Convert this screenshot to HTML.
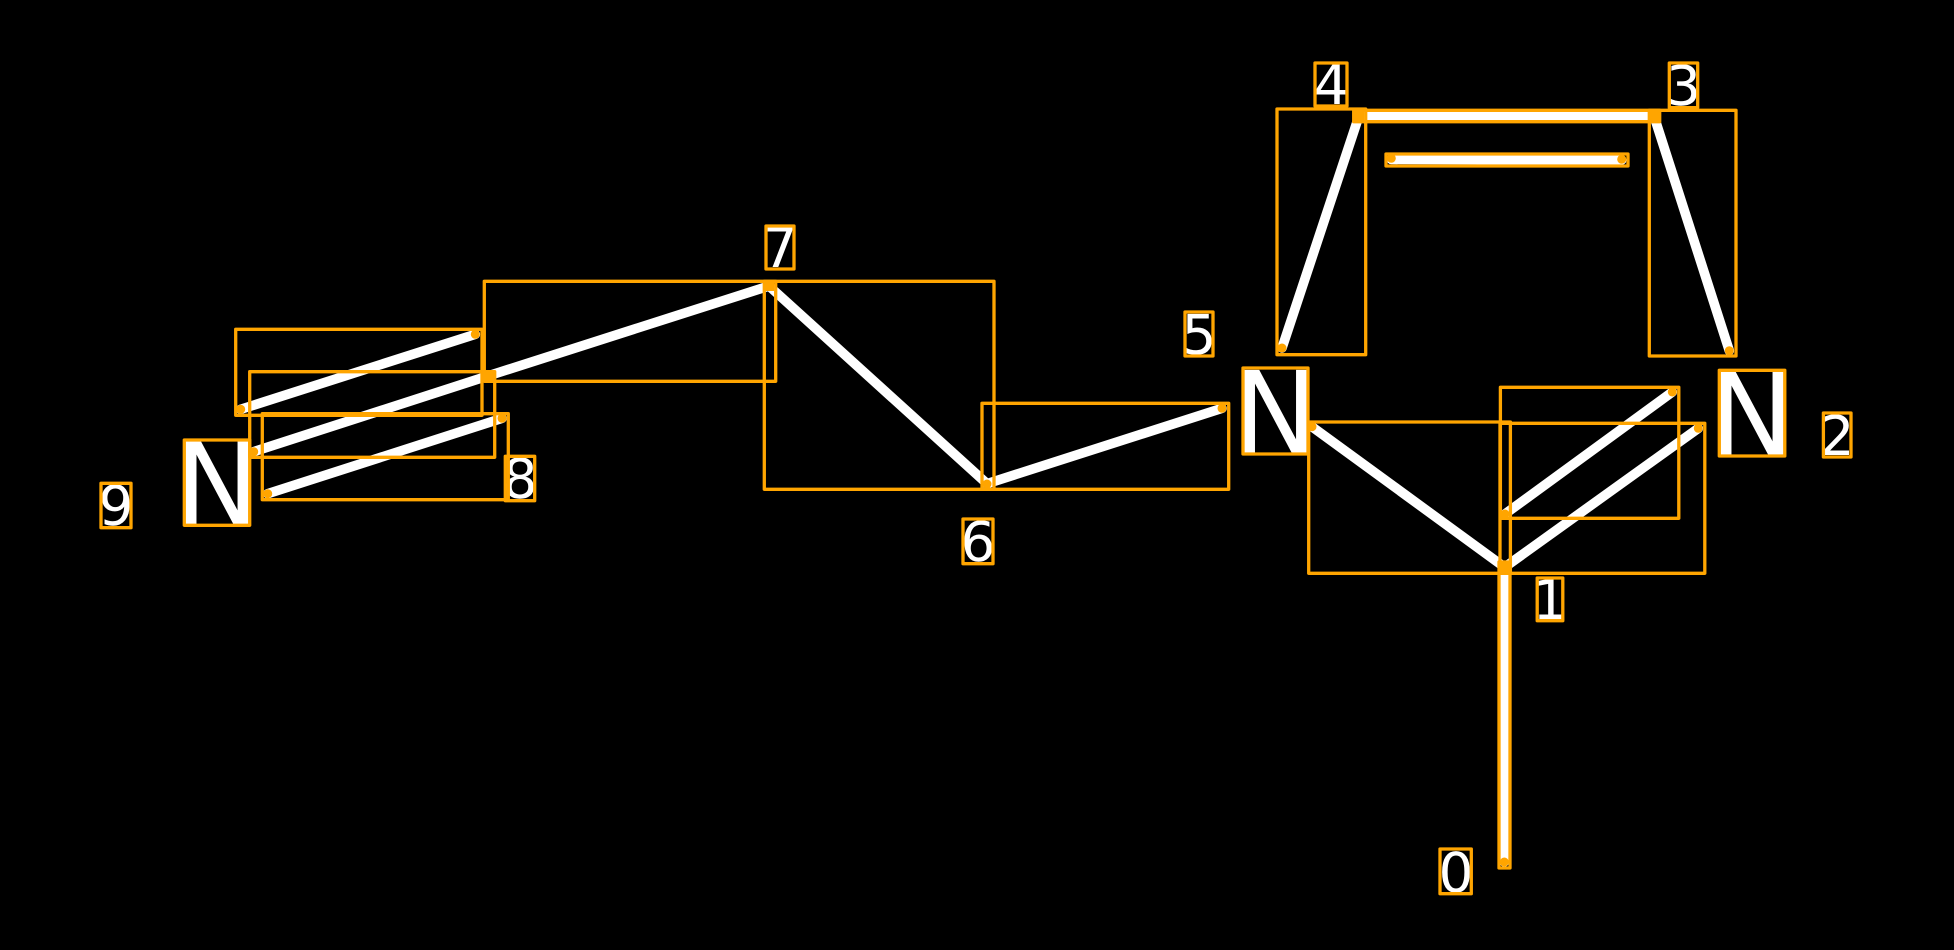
<!DOCTYPE html>
<html>
<head>
<meta charset="utf-8">
<style>
html,body{margin:0;padding:0;background:#000;width:1954px;height:950px;overflow:hidden}
svg{display:block}
text{font-family:"DejaVu Sans","Liberation Sans",sans-serif;fill:#fff;text-anchor:middle;text-rendering:geometricPrecision}
.d{font-size:55px}
.n{font-size:114px}
.r{fill:none;stroke:#ffa500;stroke-width:3.3;stroke-linejoin:round}
.l{stroke:#fff;stroke-width:9.6;stroke-linecap:round;fill:none}
.p{fill:#ffa500}
</style>
</head>
<body>
<svg width="1954" height="950" viewBox="0 0 1954 950" xmlns="http://www.w3.org/2000/svg">
<rect width="1954" height="950" fill="#000"/>
<!-- lines -->
<g class="l">
<line x1="240.7" y1="409.3" x2="475.3" y2="334.3"/>
<line x1="253.7" y1="451.7" x2="488.7" y2="375.7"/>
<line x1="267.7" y1="493.7" x2="502" y2="418.3"/>
<line x1="488.7" y1="375.7" x2="769" y2="286"/>
<line x1="769" y1="286" x2="987" y2="483.7"/>
<line x1="987" y1="483.7" x2="1222" y2="408.3"/>
<line x1="1282" y1="348" x2="1359.3" y2="115"/>
<line x1="1359.3" y1="116" x2="1654" y2="116"/>
<line x1="1391.3" y1="159.5" x2="1621.7" y2="160"/>
<line x1="1654" y1="116" x2="1729.3" y2="350.7"/>
<line x1="1312" y1="426.7" x2="1504.6" y2="567.3"/>
<line x1="1504.6" y1="567.3" x2="1698.3" y2="428.3"/>
<line x1="1505" y1="514" x2="1672.3" y2="392"/>
<line x1="1504.5" y1="567" x2="1504.3" y2="862"/>
</g>
<!-- text -->
<text class="n" x="217" y="524">N</text>
<text class="n" x="1275.5" y="453">N</text>
<text class="n" x="1752" y="455">N</text>
<text class="d" x="1456" y="892">0</text>
<text class="d" x="1550" y="619">1</text>
<text class="d" x="1837" y="455">2</text>
<text class="d" x="1683.5" y="105">3</text>
<text class="d" x="1331" y="104">4</text>
<text class="d" x="1199" y="354">5</text>
<text class="d" x="978" y="561">6</text>
<text class="d" x="780" y="267">7</text>
<text class="d" x="520" y="498">8</text>
<text class="d" x="116" y="525">9</text>
<!-- boxes -->
<g class="r">
<rect x="235.7" y="329.3" width="246.3" height="86"/>
<rect x="249.7" y="371.7" width="245" height="85.6"/>
<rect x="262.3" y="413.7" width="246" height="86"/>
<rect x="484.3" y="281.3" width="291.4" height="100"/>
<rect x="764.3" y="281.3" width="229.7" height="208"/>
<rect x="982" y="403.3" width="246.7" height="86"/>
<rect x="1277" y="109" width="88.7" height="245.7"/>
<rect x="1353.7" y="110.3" width="306" height="11.4"/>
<rect x="1386" y="154" width="242" height="12"/>
<rect x="1649.3" y="110.3" width="86.7" height="245.7"/>
<rect x="1308.7" y="422" width="201.7" height="151.3"/>
<rect x="1500.4" y="387.3" width="178.4" height="131"/>
<rect x="1500" y="423.3" width="204.8" height="150"/>
<rect x="1499" y="562" width="11" height="306"/>
<rect x="101" y="483.3" width="30" height="44.4"/>
<rect x="184.3" y="440" width="65.4" height="85.3"/>
<rect x="505.3" y="456.3" width="29.4" height="44.4"/>
<rect x="766" y="226" width="28" height="43"/>
<rect x="1185" y="312" width="28" height="44"/>
<rect x="963" y="519" width="30" height="44.7"/>
<rect x="1243" y="368" width="65" height="86"/>
<rect x="1315" y="63" width="32" height="43"/>
<rect x="1669.3" y="63" width="28.4" height="44.7"/>
<rect x="1719.3" y="370.3" width="65.5" height="85.7"/>
<rect x="1823.4" y="413" width="27.6" height="44"/>
<rect x="1537.2" y="578" width="25.6" height="42.7"/>
<rect x="1440" y="849" width="31.3" height="44.7"/>
</g>
<!-- points -->
<g class="p">
<circle cx="240.7" cy="409.3" r="4.5"/>
<circle cx="475.3" cy="334.3" r="4.5"/>
<circle cx="253.7" cy="451.7" r="4.5"/>
<rect x="483" y="371" width="11" height="10"/>
<circle cx="267.7" cy="493.7" r="4.5"/>
<circle cx="502" cy="418.3" r="4.5"/>
<rect x="764" y="282" width="10" height="9"/>
<circle cx="987" cy="484" r="4.5"/>
<circle cx="1222" cy="408.3" r="4.5"/>
<circle cx="1282" cy="348" r="4.5"/>
<rect x="1354" y="110" width="10" height="10"/>
<rect x="1649" y="111" width="10" height="10"/>
<circle cx="1391.3" cy="158.3" r="4.5"/>
<circle cx="1621.7" cy="159.3" r="4.5"/>
<circle cx="1729.3" cy="350.7" r="4.5"/>
<circle cx="1312" cy="426.7" r="4.5"/>
<rect x="1499" y="562" width="11" height="11"/>
<circle cx="1505" cy="514" r="4.5"/>
<circle cx="1672.3" cy="392" r="4.5"/>
<circle cx="1698.3" cy="428.3" r="4.5"/>
<circle cx="1504.3" cy="862" r="4.5"/>
</g>
</svg>
</body>
</html>
